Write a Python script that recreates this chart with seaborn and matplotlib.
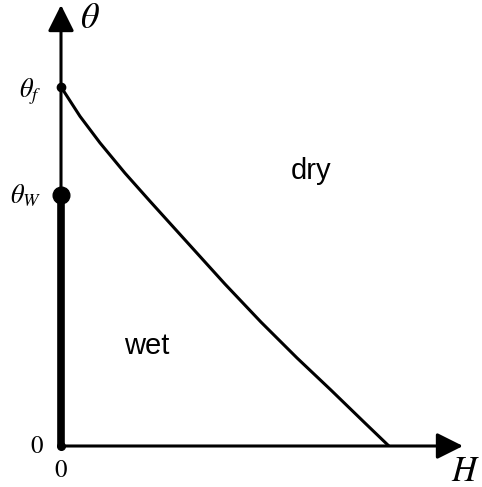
import matplotlib
matplotlib.use("Agg")
import matplotlib.pyplot as plt
import numpy as np
import pandas as pd
import seaborn as sns

# Phase boundary between wetting and drying regimes
boundary_H = [0.0, 0.058, 0.119, 0.195, 0.271, 0.384, 0.500, 0.610, 0.720, 0.823, 0.927, 1.0]
boundary_theta = [1.0, 0.918, 0.844, 0.760, 0.682, 0.568, 0.451, 0.345, 0.245, 0.156, 0.064, 0.0]

theta_f = 1.0
theta_W = 0.70

region_labels = ["dry", "wet"]
axis_labels = [r"$\theta$", r"$H$"]
tick_labels = [r"$\theta_f$", r"$\theta_W$", r"$0$"]

sns.set_theme(style="white")
plt.rcParams["mathtext.fontset"] = "stix"
plt.rcParams["text.color"] = "black"

fig = plt.figure(figsize=(4.82, 4.87), dpi=100)
ax = fig.add_axes([61 / 482, 41 / 487, (463 - 61) / 482, (482 - 41) / 487])
ax.set_xlim(0, 1.226)
ax.set_ylim(0, 1.228)
ax.set_axis_off()

df = pd.DataFrame({"H": boundary_H, "theta": boundary_theta})
sns.lineplot(data=df, x="H", y="theta", sort=False, color="black", lw=2.2, ax=ax)

# coordinate axes with arrow heads
arrow = dict(arrowstyle="-|>,head_length=0.8,head_width=0.4", color="black", lw=2.2,
             shrinkA=0, shrinkB=0, mutation_scale=20)
ax.annotate("", xy=(1.226, 0), xytext=(0, 0), arrowprops=arrow, annotation_clip=False)
ax.annotate("", xy=(0, 1.228), xytext=(0, 0), arrowprops=arrow, annotation_clip=False)

# thick segment on the theta axis up to theta_W
ax.plot([0, 0], [0, theta_W], color="black", lw=5.5, solid_capstyle="butt", clip_on=False)
ax.plot([0], [theta_W], "o", color="black", ms=12, clip_on=False)
ax.plot([0], [theta_f], "o", color="black", ms=6, clip_on=False)
ax.plot([0], [0], "o", color="black", ms=5.5, clip_on=False)

ax.text(0.088, 1.192, axis_labels[0], fontsize=26, ha="center", va="center", color="black")
ax.text(1.234, -0.070, axis_labels[1], fontsize=25, ha="center", va="center",
        color="black", clip_on=False)
ax.text(-0.094, 0.986, tick_labels[0], fontsize=19, ha="center", va="center", color="black")
ax.text(-0.109, 0.696, tick_labels[1], fontsize=19, ha="center", va="center", color="black")
ax.text(-0.073, 0.0, tick_labels[2], fontsize=18, ha="center", va="center", color="black")
ax.text(0.0, -0.067, tick_labels[2], fontsize=18, ha="center", va="center", color="black")

ax.text(0.762, 0.766, region_labels[0], fontsize=21, family="Liberation Sans",
        ha="center", va="center", color="black")
ax.text(0.262, 0.279, region_labels[1], fontsize=21, family="Liberation Sans",
        ha="center", va="center", color="black")

fig.savefig("out.png", dpi=100)
